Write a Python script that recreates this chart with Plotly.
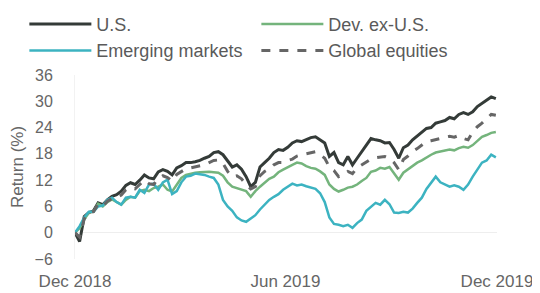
import pandas as pd
import plotly.graph_objects as go

# Observation dates (every 4 days through 2019)
dates = pd.date_range("2018-12-31", periods=92, freq="4D")

us = [0, -2.0, 3.7, 4.6, 5.0, 6.8, 6.4, 7.5, 8.3, 8.7, 9.5, 10.8, 11.4, 11.0, 12.0, 13.2,
      12.5, 12.3, 13.9, 14.4, 14.0, 13.2, 14.8, 15.3, 16.0, 16.0, 16.2, 16.5, 17.0, 17.4,
      18.3, 18.5, 17.8, 16.5, 15.0, 15.5, 14.5, 12.8, 10.5, 11.5, 15.0, 16.0, 17.0, 18.3,
      19.0, 18.8, 19.5, 20.5, 21.0, 20.8, 21.2, 21.7, 21.9, 21.2, 20.5, 17.4, 18.3, 16.0,
      15.5, 17.4, 15.5, 17.0, 18.5, 20.0, 21.5, 21.2, 21.0, 20.5, 20.6, 19.0, 17.0, 19.4,
      20.0, 21.2, 22.0, 23.0, 23.8, 24.0, 25.0, 25.3, 25.6, 26.3, 26.0, 27.0, 27.4, 27.0,
      27.6, 28.8, 29.5, 30.4, 31.0, 30.6]

dev_ex_us = [0, 1.0, 3.0, 4.6, 4.8, 6.6, 6.0, 7.0, 7.6, 7.0, 6.4, 7.5, 8.2, 8.0, 9.5, 9.8,
             9.5, 10.2, 10.5, 11.0, 9.8, 9.4, 11.0, 12.5, 13.2, 13.5, 13.7, 13.8, 13.9, 13.9,
             13.8, 13.7, 13.0, 11.5, 10.5, 10.2, 9.8, 9.5, 8.2, 9.5, 10.5, 11.5, 12.3, 12.8,
             13.8, 14.4, 15.0, 15.5, 16.0, 15.8, 15.2, 14.8, 14.6, 14.0, 13.2, 11.0, 10.0, 9.4,
             9.8, 10.3, 10.5, 11.0, 11.8, 12.5, 13.9, 14.2, 14.8, 14.6, 15.0, 13.5, 12.1, 13.7,
             14.5, 15.2, 16.0, 16.5, 17.2, 17.8, 18.3, 18.5, 18.8, 19.0, 18.8, 19.3, 19.6, 19.4,
             20.0, 21.0, 21.9, 22.3, 22.8, 23.0]

emerging = [0, 1.5, 3.5, 4.8, 4.8, 6.0, 6.2, 7.5, 8.0, 7.0, 6.4, 8.0, 8.2, 8.0, 9.8, 9.1,
            11.0, 11.2, 9.8, 11.5, 12.1, 8.8, 9.5, 11.5, 12.8, 13.0, 13.5, 13.3, 13.2, 12.8,
            12.5, 11.0, 7.5, 6.0, 5.0, 3.5, 2.8, 2.5, 3.2, 4.0, 5.3, 6.5, 7.5, 8.2, 8.8, 9.8,
            10.5, 11.2, 10.8, 11.0, 10.6, 10.3, 10.0, 9.0, 7.0, 3.5, 2.0, 1.8, 1.5, 1.8, 1.1,
            2.2, 3.0, 5.0, 6.0, 6.8, 6.4, 7.5, 6.5, 4.6, 4.5, 4.8, 4.6, 5.5, 6.8, 8.0, 10.0,
            11.5, 12.8, 11.5, 11.0, 10.5, 10.8, 10.5, 9.8, 11.0, 12.8, 14.5, 16.0, 16.5, 17.8,
            17.2]

global_eq = [0, -1.0, 3.2, 4.5, 4.8, 6.5, 6.0, 7.2, 7.8, 8.0, 8.6, 9.8, 10.3, 10.0, 11.0,
             12.0, 11.2, 11.0, 12.4, 13.0, 12.6, 11.8, 13.3, 14.0, 14.6, 14.8, 15.0, 15.3,
             15.5, 16.0, 16.5, 16.6, 15.8, 14.0, 12.8, 13.0, 12.3, 11.0, 10.0, 10.5, 13.0,
             14.0, 14.6, 15.5, 16.0, 16.0, 16.5, 16.8, 17.5, 17.8, 18.0, 18.3, 18.5, 17.8,
             17.0, 15.0, 14.2, 12.8, 13.2, 14.0, 13.5, 14.8, 15.5, 16.2, 16.8, 17.1, 17.2,
             17.4, 17.0, 16.0, 14.4, 16.7, 17.5, 18.5, 19.2, 20.0, 20.8, 21.0, 21.2, 21.5,
             21.8, 22.0, 21.8, 22.2, 21.5, 21.2, 23.0, 24.2, 25.0, 26.0, 27.0, 26.8]

series_names = ["U.S.", "Dev. ex-U.S.", "Emerging markets", "Global equities"]
y_ticks = [-6, 0, 6, 12, 18, 24, 30, 36]
x_tick_vals = ["2018-12-31", "2019-07-01", "2019-12-31"]
x_tick_text = ["Dec 2018", "Jun 2019", "Dec 2019"]

fig = go.Figure()
fig.add_trace(go.Scatter(x=dates, y=us, name=series_names[0], mode="lines",
                         line=dict(color="#343b38", width=3)))
fig.add_trace(go.Scatter(x=dates, y=dev_ex_us, name=series_names[1], mode="lines",
                         line=dict(color="#74b47c", width=2.5)))
fig.add_trace(go.Scatter(x=dates, y=emerging, name=series_names[2], mode="lines",
                         line=dict(color="#3cb3c1", width=2.5)))
fig.add_trace(go.Scatter(x=dates, y=global_eq, name=series_names[3], mode="lines",
                         line=dict(color="#666666", width=3, dash="dash")))

font_family = "Liberation Sans, Arial, sans-serif"
# The page adds an 8px body margin, so the figure is 8px smaller than the window.
fig.update_layout(
    width=532, height=285,
    margin=dict(l=67, r=43, t=67, b=34, autoexpand=False),
    paper_bgcolor="white", plot_bgcolor="white",
    font=dict(family=font_family, color="#666666", size=16),
    showlegend=True,
    legend=dict(orientation="h", xref="paper", yref="paper",
                x=-0.12, y=1.376, xanchor="left", yanchor="top",
                entrywidth=155, itemwidth=62,
                font=dict(size=18, color="#5a5a5a"),
                bgcolor="rgba(0,0,0,0)", tracegroupgap=0),
    xaxis=dict(type="date", range=["2018-12-31", "2019-12-31"],
               tickmode="array", tickvals=x_tick_vals, ticktext=x_tick_text,
               showgrid=False, zeroline=False, showline=False, ticks="",
               ticklabelstandoff=10, tickfont=dict(size=17, color="#666666")),
    yaxis=dict(range=[-6, 36], tickmode="array", tickvals=y_ticks,
               showgrid=False, zeroline=True, zerolinecolor="#eeeeee", zerolinewidth=1,
               showline=True, linecolor="#f2f2f2", ticks="",
               ticklabelstandoff=18, tickfont=dict(size=16, color="#666666"),
               title=dict(text="Return (%)", font=dict(size=17, color="#666666"), standoff=8)),
)

fig.write_html("out.html")
